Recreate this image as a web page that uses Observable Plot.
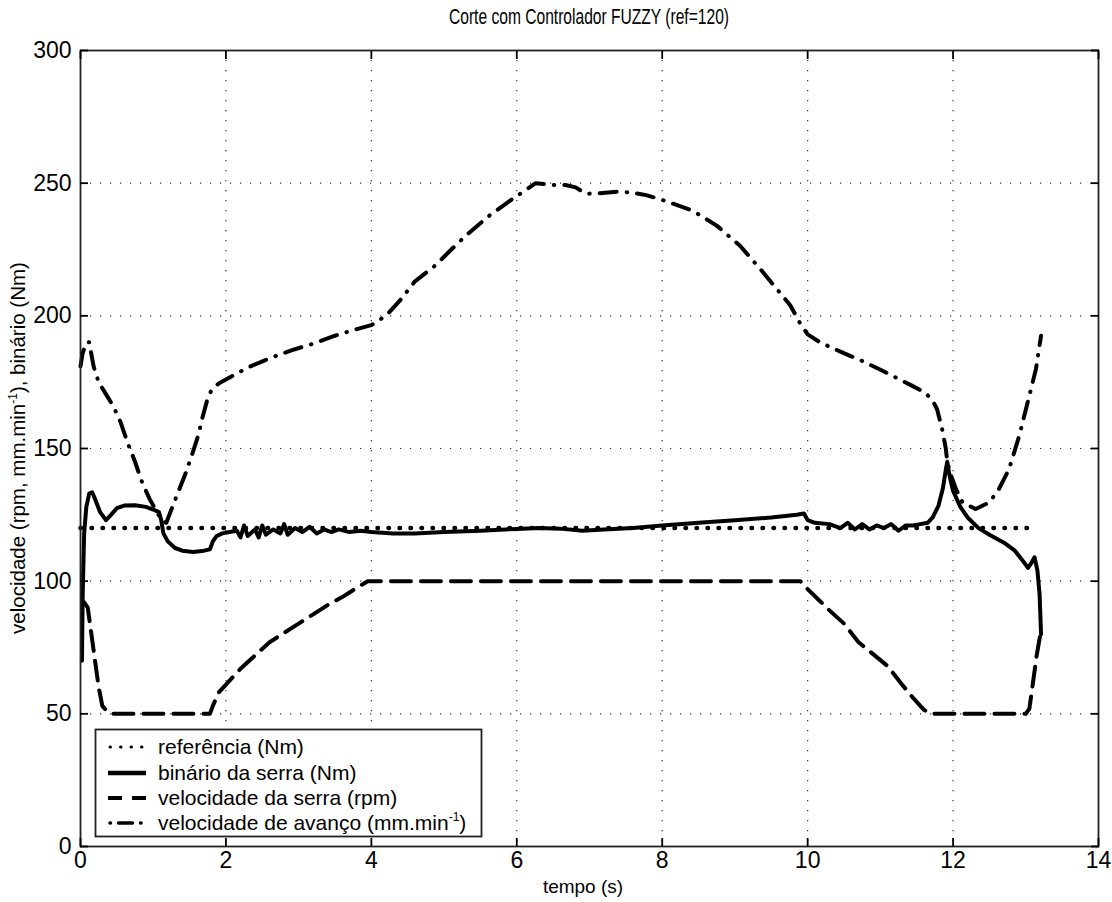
<!DOCTYPE html>
<html>
<head>
<meta charset="utf-8">
<script src="https://cdn.jsdelivr.net/npm/d3@7"></script>
<script src="https://cdn.jsdelivr.net/npm/@observablehq/plot@0.6"></script>
<style>
  html, body { margin: 0; padding: 0; background: #fff; }
  #chart svg { display: block; }
</style>
</head>
<body>
<div id="chart"></div>
<script>
// ---- data ----
const titleText = "Corte com Controlador FUZZY (ref=120)";
const xTicks = [0, 2, 4, 6, 8, 10, 12, 14];
const yTicks = [0, 50, 100, 150, 200, 250, 300];

const refT = [0, 13.1];
const refV = [120, 120];

const torqueT = [0.02,0.03,0.05,0.08,0.12,0.16,0.2,0.27,0.35,0.42,0.5,0.6,0.75,0.9,1.0,1.08,1.11,1.14,1.2,1.3,1.4,1.55,1.7,1.78,1.82,1.87,1.95,2.05,2.15,2.2,2.25,2.3,2.4,2.45,2.5,2.55,2.65,2.75,2.8,2.85,2.95,3.05,3.15,3.25,3.35,3.45,3.55,3.7,3.85,4.0,4.3,4.6,5.0,5.5,6.0,6.3,6.6,6.9,7.2,7.6,8.0,8.5,9.0,9.5,9.85,9.95,10.0,10.1,10.3,10.45,10.55,10.65,10.75,10.85,10.95,11.05,11.15,11.25,11.35,11.45,11.55,11.65,11.72,11.8,11.86,11.9,11.92,11.95,12.0,12.1,12.2,12.35,12.5,12.7,12.85,12.95,13.03,13.08,13.12,13.16,13.19,13.21];
const torqueV = [70,95,118,128,133,133.5,131,126,123,125,127.5,128.5,128.6,128,127,126,123,118,115,112.5,111.5,111,111.5,112,115,117,118,118.5,119,116.5,121,117,119.5,116.5,121,117.5,119.5,118,121.5,117.5,120,118.5,120.5,118,119.5,118.5,119.5,118.5,119,118.5,118,118,118.5,119,119.7,120,119.8,119,119.5,120,121,122,123,124,125,125.5,123,122,121.5,120,122,119.5,121.5,119.5,121,120,121.5,119,121,121,121.5,122,124,128.5,135,142,145,140,134,128,124,120,117.5,114.5,111.5,108,105,107,109,104,95,80];

const sawT = [0.05,0.1,0.15,0.2,0.25,0.3,0.38,0.45,1.78,1.82,1.9,2.0,2.2,2.4,2.6,2.8,3.0,3.2,3.4,3.6,3.8,3.95,9.9,10.0,10.15,10.3,10.5,10.7,10.9,11.1,11.3,11.45,11.6,11.7,13.0,13.05,13.1,13.15,13.2];
const sawV = [92,90,80,70,60,53,50.5,50,50,53,58,61,67,72,77,80.5,84,87.5,91,94,97.5,100,100,97,93,89,84,77,72.5,68,61,56,51.5,50,50,52,62,72,80];

const feedT = [0.0,0.03,0.08,0.12,0.18,0.25,0.35,0.45,0.55,0.65,0.75,0.85,0.95,1.05,1.13,1.18,1.25,1.35,1.45,1.55,1.62,1.68,1.74,1.8,1.9,2.0,2.3,2.6,2.9,3.2,3.5,3.8,4.0,4.2,4.4,4.6,4.88,5.1,5.29,5.61,5.94,6.26,6.5,6.67,6.81,6.95,7.13,7.41,7.6,7.78,8.0,8.42,8.75,9.07,9.35,9.58,9.76,9.9,10.0,10.17,10.45,10.75,11.03,11.44,11.62,11.72,11.78,11.85,11.9,11.92,11.97,12.04,12.13,12.31,12.5,12.63,12.77,12.91,13.05,13.14,13.21];
const feedV = [181,186,190,190,181,175,170.5,166,160,152,145,137,131,126,122.5,122,127,134,141,149,155,162,168,172,174.5,176,180.5,184,187,189.5,192.5,195,196.5,200,206,213,219,225,230,237.5,244,250,249.3,249.3,248.4,246,246.2,246.8,246.4,245.5,243.7,239.6,234,226.4,217.6,210,204,197,193,190,186.5,183,179.3,173.6,171,168,164.8,157.3,150,145,140,134.7,129.7,127.2,129.7,134.7,142.2,154.8,170,180,192.5];

const seriesNames = ["referência (Nm)", "binário da serra (Nm)", "velocidade da serra (rpm)", "velocidade de avanço (mm.min"];

// ---- build tables ----
const zip = (T, V) => T.map((t, i) => ({t, v: V[i]}));
const refData = zip(refT, refV);
const torqueData = zip(torqueT, torqueV);
const sawData = zip(sawT, sawV);
const feedData = zip(feedT, feedV);

const W = 1112, H = 902;
const styles = {
  ref:    {stroke: "black", strokeWidth: 4.5, strokeDasharray: "0.5,10.5", strokeLinecap: "round"},
  torque: {stroke: "black", strokeWidth: 4, strokeLinejoin: "round"},
  saw:    {stroke: "black", strokeWidth: 4, strokeDasharray: "20,10"},
  feed:   {stroke: "black", strokeWidth: 4, strokeDasharray: "17,10,0.5,10", strokeLinecap: "round"}
};

const tickFont = 23;
const plot = Plot.plot({
  width: W, height: H,
  marginLeft: 80, marginRight: 14, marginTop: 50, marginBottom: 56,
  style: {fontFamily: "'Liberation Sans', Arial, sans-serif", background: "white"},
  x: {domain: [0, 14], label: null},
  y: {domain: [0, 300], label: null},
  marks: [
    Plot.ruleX(xTicks.slice(1, -1), {stroke: "#333", strokeWidth: 1.2, strokeDasharray: "1.2,8.8"}),
    Plot.ruleY(yTicks.slice(1, -1), {stroke: "#333", strokeWidth: 1.2, strokeDasharray: "1.2,8.8"}),
    Plot.line(refData, {x: "t", y: "v", ...styles.ref}),
    Plot.line(sawData, {x: "t", y: "v", ...styles.saw}),
    Plot.line(feedData, {x: "t", y: "v", ...styles.feed}),
    Plot.line(torqueData, {x: "t", y: "v", ...styles.torque}),
    Plot.frame({stroke: "#222", strokeWidth: 1.8}),
    Plot.axisX(xTicks, {anchor: "bottom", tickSize: 0, tickPadding: 5, fontSize: tickFont, label: null}),
    Plot.axisX(xTicks, {anchor: "bottom", text: null, tickSize: -8, strokeWidth: 1.8, label: null}),
    Plot.axisX(xTicks, {anchor: "top", text: null, tickSize: -8, strokeWidth: 1.8, label: null}),
    Plot.axisY(yTicks, {anchor: "left", tickSize: 0, tickPadding: 9, fontSize: tickFont, label: null}),
    Plot.axisY(yTicks, {anchor: "left", text: null, tickSize: -8, strokeWidth: 1.8, label: null}),
    Plot.axisY(yTicks, {anchor: "right", text: null, tickSize: -8, strokeWidth: 1.8, label: null})
  ]
});
document.getElementById("chart").appendChild(plot);

// ---- title, axis labels, legend ----
const svg = d3.select(plot);
const fam = "'Liberation Sans', Arial, sans-serif";
const cx = 80 + (W - 80 - 14) / 2;

svg.append("text")
  .attr("x", cx).attr("y", 24)
  .attr("text-anchor", "middle")
  .attr("font-family", fam)
  .attr("font-size", 22)
  .attr("textLength", 280).attr("lengthAdjust", "spacingAndGlyphs")
  .attr("fill", "black")
  .text(titleText);

svg.append("text")
  .attr("x", 583).attr("y", 893)
  .attr("text-anchor", "middle")
  .attr("font-family", fam).attr("font-size", 19).attr("fill", "black")
  .text("tempo (s)");

const yl = svg.append("text")
  .attr("transform", `translate(25,${(50 + 846) / 2}) rotate(-90)`)
  .attr("text-anchor", "middle")
  .attr("font-family", fam).attr("font-size", 20.5).attr("fill", "black");
yl.append("tspan").text("velocidade (rpm, mm.min");
yl.append("tspan").attr("font-size", 12).attr("dy", -8).text("-1");
yl.append("tspan").attr("dy", 8).text("), binário (Nm)");

// legend
const lg = svg.append("g");
lg.append("rect").attr("x", 95.5).attr("y", 729.5).attr("width", 386).attr("height", 107)
  .attr("fill", "white").attr("stroke", "#222").attr("stroke-width", 1.8);
const keys = ["ref", "torque", "saw", "feed"];
const rowY = [747, 773, 798, 823];
keys.forEach((k, i) => {
  const s = styles[k];
  const ln = lg.append("line")
    .attr("x1", 108).attr("x2", 146).attr("y1", rowY[i]).attr("y2", rowY[i])
    .attr("stroke", s.stroke).attr("stroke-width", k === "torque" ? 4.5 : s.strokeWidth);
  if (k === "ref") ln.attr("stroke-dasharray", "0.5,10").attr("stroke-linecap", "round").attr("stroke-width", 3).attr("x1", 110);
  if (k === "saw") ln.attr("stroke-dasharray", "14,10");
  if (k === "feed") ln.attr("stroke-dasharray", "0.5,8,14,8,0.5,20").attr("stroke-linecap", "round").attr("stroke-width", 3.5).attr("x1", 110);
  const t = lg.append("text")
    .attr("x", 158).attr("y", rowY[i] + 7)
    .attr("text-anchor", "start")
    .attr("font-family", fam).attr("font-size", 21).attr("fill", "black");
  t.append("tspan").text(seriesNames[i]);
  if (k === "feed") {
    t.append("tspan").attr("font-size", 12).attr("dy", -9).text("-1");
    t.append("tspan").attr("dy", 9).text(")");
  }
});
</script>
</body>
</html>
